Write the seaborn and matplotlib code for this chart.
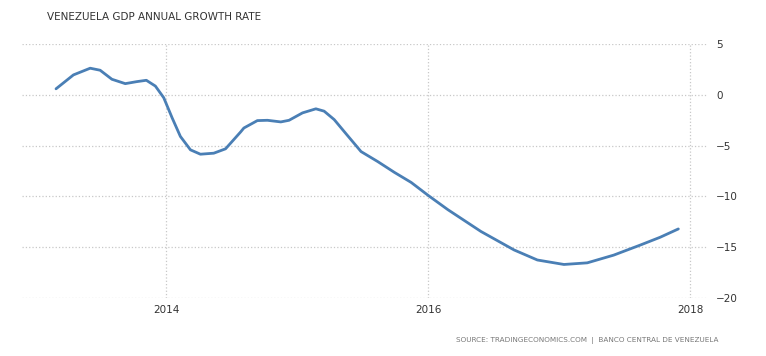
import pandas as pd
import matplotlib.pyplot as plt
import seaborn as sns

# Venezuela GDP annual growth rate (%)
years = [
    2013.157, 2013.290, 2013.418, 2013.494, 2013.584, 2013.686, 2013.775,
    2013.847, 2013.916, 2013.980, 2014.044, 2014.107, 2014.184, 2014.260,
    2014.362, 2014.452, 2014.567, 2014.592, 2014.695, 2014.772, 2014.874,
    2014.937, 2015.040, 2015.142, 2015.205, 2015.282, 2015.372, 2015.487,
    2015.615, 2015.742, 2015.870, 2015.998, 2016.150, 2016.403, 2016.656,
    2016.834, 2017.037, 2017.215, 2017.417, 2017.620, 2017.772, 2017.911,
]
growth = [
    0.60, 1.97, 2.63, 2.43, 1.54, 1.11, 1.31,
    1.44, 0.87, -0.28, -2.26, -4.09, -5.41, -5.84,
    -5.74, -5.31, -3.65, -3.26, -2.53, -2.50, -2.66,
    -2.50, -1.77, -1.37, -1.60, -2.43, -3.82, -5.58,
    -6.57, -7.63, -8.62, -9.88, -11.30, -13.45, -15.27,
    -16.26, -16.70, -16.54, -15.78, -14.79, -14.02, -13.20,
]
x_ticks = [2014, 2016, 2018]
x_labels = ["2014", "2016", "2018"]
y_ticks = [5, 0, -5, -10, -15, -20]

df = pd.DataFrame({"Year": years, "Growth": growth})

sns.set_style("white")
plt.rcParams["font.family"] = ["DejaVu Sans"]

fig = plt.figure(figsize=(7.66, 3.56), dpi=100)
ax = fig.add_axes([0.0287, 0.163, 0.8955, 0.713])

sns.lineplot(
    x="Year",
    y="Growth",
    data=df,
    color="#4a7fb5",
    linewidth=2,
    ax=ax
)

ax.set_xlim(2012.897, 2018.137)
ax.set_ylim(-20, 5)
ax.set_xticks(x_ticks)
ax.set_xticklabels(x_labels)
ax.set_yticks(y_ticks)
ax.yaxis.tick_right()
ax.tick_params(axis="both", length=0, labelsize=7.5, labelcolor="#333333")
ax.tick_params(axis="y", pad=6)
ax.tick_params(axis="x", pad=5)
ax.grid(True, color="#c8c8c8", linestyle=":", linewidth=0.9)
ax.set_xlabel("")
ax.set_ylabel("")
sns.despine(ax=ax, left=True, bottom=True)

fig.text(
    47 / 766, 1 - 17 / 356,
    "VENEZUELA GDP ANNUAL GROWTH RATE",
    fontsize=7.5, color="#333333", va="center", ha="left"
)
fig.text(
    719 / 766, 1 - 341 / 356,
    "SOURCE: TRADINGECONOMICS.COM  |  BANCO CENTRAL DE VENEZUELA",
    fontsize=5.2, color="#777777", va="center", ha="right"
)

plt.savefig("out.png", dpi=100)
